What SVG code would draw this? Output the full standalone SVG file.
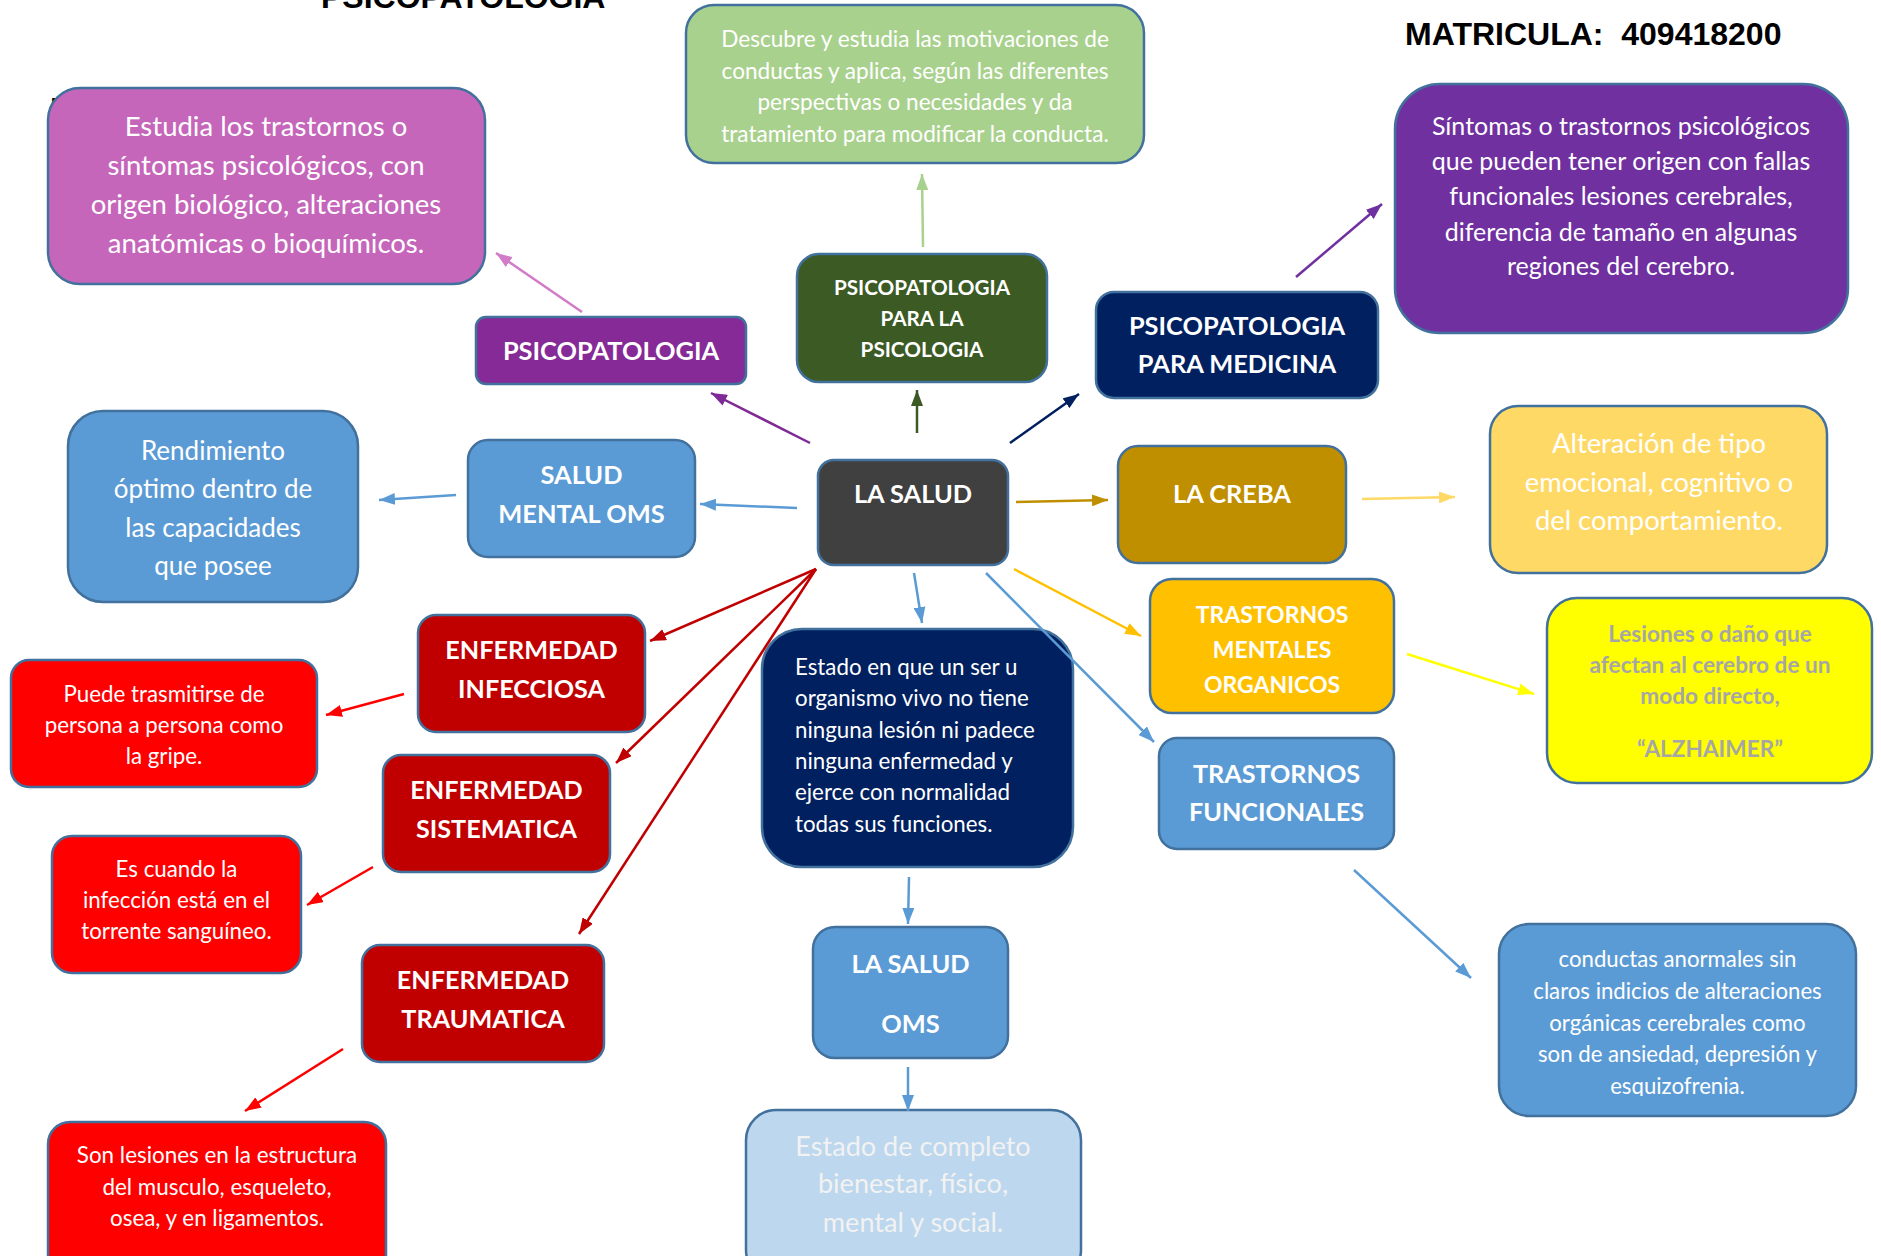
<svg xmlns="http://www.w3.org/2000/svg" width="1881" height="1256" viewBox="0 0 1881 1256">
<style>
.box{stroke:#41719c;stroke-width:2.5}
.t{font-family:Lato,"Open Sans","Liberation Sans",sans-serif;fill:#ffffff;text-anchor:middle}
.b{font-weight:bold}
.h{font-family:"Liberation Sans",Arial,sans-serif;font-weight:bold;fill:#000000}
.c{fill:none;stroke-width:2.5}
</style>
<defs>
<marker id="m-pink" markerUnits="userSpaceOnUse" markerWidth="16" markerHeight="12" refX="16" refY="6" orient="auto"><path d="M0,0 L16,6 L0,12 z" fill="#d27bc9"/></marker>
<marker id="m-purple" markerUnits="userSpaceOnUse" markerWidth="16" markerHeight="12" refX="16" refY="6" orient="auto"><path d="M0,0 L16,6 L0,12 z" fill="#7f2a96"/></marker>
<marker id="m-dgreen" markerUnits="userSpaceOnUse" markerWidth="16" markerHeight="12" refX="16" refY="6" orient="auto"><path d="M0,0 L16,6 L0,12 z" fill="#3b5a24"/></marker>
<marker id="m-lgreen" markerUnits="userSpaceOnUse" markerWidth="16" markerHeight="12" refX="16" refY="6" orient="auto"><path d="M0,0 L16,6 L0,12 z" fill="#a9d18e"/></marker>
<marker id="m-navy" markerUnits="userSpaceOnUse" markerWidth="16" markerHeight="12" refX="16" refY="6" orient="auto"><path d="M0,0 L16,6 L0,12 z" fill="#002060"/></marker>
<marker id="m-violet" markerUnits="userSpaceOnUse" markerWidth="16" markerHeight="12" refX="16" refY="6" orient="auto"><path d="M0,0 L16,6 L0,12 z" fill="#7030a0"/></marker>
<marker id="m-blue" markerUnits="userSpaceOnUse" markerWidth="16" markerHeight="12" refX="16" refY="6" orient="auto"><path d="M0,0 L16,6 L0,12 z" fill="#5b9bd5"/></marker>
<marker id="m-gold" markerUnits="userSpaceOnUse" markerWidth="16" markerHeight="12" refX="16" refY="6" orient="auto"><path d="M0,0 L16,6 L0,12 z" fill="#bf8f00"/></marker>
<marker id="m-lyellow" markerUnits="userSpaceOnUse" markerWidth="16" markerHeight="12" refX="16" refY="6" orient="auto"><path d="M0,0 L16,6 L0,12 z" fill="#ffd966"/></marker>
<marker id="m-orange" markerUnits="userSpaceOnUse" markerWidth="16" markerHeight="12" refX="16" refY="6" orient="auto"><path d="M0,0 L16,6 L0,12 z" fill="#ffc000"/></marker>
<marker id="m-yellow" markerUnits="userSpaceOnUse" markerWidth="16" markerHeight="12" refX="16" refY="6" orient="auto"><path d="M0,0 L16,6 L0,12 z" fill="#ffff00"/></marker>
<marker id="m-dred" markerUnits="userSpaceOnUse" markerWidth="16" markerHeight="12" refX="16" refY="6" orient="auto"><path d="M0,0 L16,6 L0,12 z" fill="#c00000"/></marker>
<marker id="m-red" markerUnits="userSpaceOnUse" markerWidth="16" markerHeight="12" refX="16" refY="6" orient="auto"><path d="M0,0 L16,6 L0,12 z" fill="#ff0000"/></marker>
<clipPath id="clip-conductas"><rect x="1499" y="924" width="357" height="172"/></clipPath>
</defs>
<rect x="0" y="0" width="1881" height="1256" fill="#ffffff"/>

<g id="titles">
<text class="h" x="321" y="8" font-size="32">PSICOPATOLOGIA</text>
<text class="h" x="1405" y="45" font-size="32" xml:space="preserve">MATRICULA:  409418200</text>
<text class="h" x="50" y="120" font-size="32">P</text>
</g>

<g id="n-descubre">
<rect class="box" x="686" y="5" width="458" height="158" rx="28" fill="#a9d18e"/>
<text class="t" font-size="22.6"><tspan x="915" y="47">Descubre y estudia las motivaciones de</tspan><tspan x="915" y="79">conductas y aplica, según las diferentes</tspan><tspan x="915" y="110">perspectivas o necesidades y da</tspan><tspan x="915" y="142">tratamiento para modificar la conducta.</tspan></text>
</g>

<g id="n-psico-psicologia">
<rect class="box" x="797" y="254" width="250" height="128" rx="22" fill="#3b5a24"/>
<text class="t b" font-size="20.7"><tspan x="922" y="295">PSICOPATOLOGIA</tspan><tspan x="922" y="326">PARA LA</tspan><tspan x="922" y="357">PSICOLOGIA</tspan></text>
</g>

<g id="n-psicopatologia">
<rect class="box" x="476" y="317" width="270" height="67" rx="10" fill="#852a97"/>
<text class="t b" font-size="25.4" x="611" y="360">PSICOPATOLOGIA</text>
</g>

<g id="n-estudia">
<rect class="box" x="48" y="88" width="437" height="196" rx="32" fill="#c566bb"/>
<text class="t" font-size="27.5"><tspan x="266" y="136">Estudia los trastornos o</tspan><tspan x="266" y="175">síntomas psicológicos, con</tspan><tspan x="266" y="214">origen biológico, alteraciones</tspan><tspan x="266" y="253">anatómicas o bioquímicos.</tspan></text>
</g>

<g id="n-medicina">
<rect class="box" x="1096" y="292" width="282" height="106" rx="18" fill="#002060"/>
<text class="t b" font-size="25.4"><tspan x="1237" y="335">PSICOPATOLOGIA</tspan><tspan x="1237" y="373">PARA MEDICINA</tspan></text>
</g>

<g id="n-sintomas">
<rect class="box" x="1395" y="84" width="453" height="249" rx="45" fill="#7030a0"/>
<text class="t" font-size="25"><tspan x="1621" y="135">Síntomas o trastornos psicológicos</tspan><tspan x="1621" y="170">que pueden tener origen con fallas</tspan><tspan x="1621" y="205">funcionales lesiones cerebrales,</tspan><tspan x="1621" y="241">diferencia de tamaño en algunas</tspan><tspan x="1621" y="275">regiones del cerebro.</tspan></text>
</g>

<g id="n-la-salud">
<rect class="box" x="818" y="460" width="190" height="105" rx="16" fill="#404040"/>
<text class="t b" font-size="25.4" x="913" y="503">LA SALUD</text>
</g>

<g id="n-creba">
<rect class="box" x="1118" y="446" width="228" height="117" rx="20" fill="#bf8f00"/>
<text class="t b" font-size="25.4" x="1232" y="503">LA CREBA</text>
</g>

<g id="n-tmo">
<rect class="box" x="1150" y="579" width="244" height="134" rx="22" fill="#ffc000"/>
<text class="t b" font-size="23"><tspan x="1272" y="623">TRASTORNOS</tspan><tspan x="1272" y="658">MENTALES</tspan><tspan x="1272" y="693">ORGANICOS</tspan></text>
</g>

<g id="n-tf">
<rect class="box" x="1159" y="738" width="235" height="111" rx="18" fill="#5b9bd5"/>
<text class="t b" font-size="25.2"><tspan x="1276.5" y="783">TRASTORNOS</tspan><tspan x="1276.5" y="821">FUNCIONALES</tspan></text>
</g>

<g id="n-estado">
<rect class="box" x="762" y="629" width="311" height="238" rx="40" fill="#002060"/>
<text class="t" font-size="22.3" style="text-anchor:start"><tspan x="795" y="675">Estado en que un ser u</tspan><tspan x="795" y="706">organismo vivo no tiene</tspan><tspan x="795" y="738">ninguna lesión ni padece</tspan><tspan x="795" y="769">ninguna enfermedad y</tspan><tspan x="795" y="800">ejerce con normalidad</tspan><tspan x="795" y="832">todas sus funciones.</tspan></text>
</g>

<g id="n-salud-oms">
<rect class="box" x="813" y="927" width="195" height="131" rx="22" fill="#5b9bd5"/>
<text class="t b" font-size="25.4"><tspan x="910.5" y="973">LA SALUD</tspan><tspan x="910.5" y="1033">OMS</tspan></text>
</g>

<g id="n-completo">
<rect class="box" x="746" y="1110" width="335" height="170" rx="30" fill="#bdd7ee"/>
<text class="t" font-size="27.1" style="fill:#f2f2f2"><tspan x="913" y="1156">Estado de completo</tspan><tspan x="913" y="1193">bienestar, físico,</tspan><tspan x="913" y="1232">mental y social.</tspan></text>
</g>

<g id="n-salud-mental">
<rect class="box" x="468" y="440" width="227" height="117" rx="20" fill="#5b9bd5"/>
<text class="t b" font-size="25.4"><tspan x="581.5" y="484">SALUD</tspan><tspan x="581.5" y="523">MENTAL OMS</tspan></text>
</g>

<g id="n-rendimiento">
<rect class="box" x="68" y="411" width="290" height="191" rx="35" fill="#5b9bd5"/>
<text class="t" font-size="26"><tspan x="213" y="460">Rendimiento</tspan><tspan x="213" y="498">óptimo dentro de</tspan><tspan x="213" y="537">las capacidades</tspan><tspan x="213" y="575">que posee</tspan></text>
</g>

<g id="n-infecciosa">
<rect class="box" x="418" y="615" width="227" height="117" rx="18" fill="#c00000"/>
<text class="t b" font-size="25.2"><tspan x="531.5" y="659">ENFERMEDAD</tspan><tspan x="531.5" y="698">INFECCIOSA</tspan></text>
</g>

<g id="n-puede">
<rect class="box" x="11" y="660" width="306" height="127" rx="18" fill="#ff0000"/>
<text class="t" font-size="22.3"><tspan x="164" y="702">Puede trasmitirse de</tspan><tspan x="164" y="733">persona a persona como</tspan><tspan x="164" y="764">la gripe.</tspan></text>
</g>

<g id="n-sistematica">
<rect class="box" x="383" y="755" width="227" height="117" rx="18" fill="#c00000"/>
<text class="t b" font-size="25.2"><tspan x="496.5" y="799">ENFERMEDAD</tspan><tspan x="496.5" y="838">SISTEMATICA</tspan></text>
</g>

<g id="n-escuando">
<rect class="box" x="52" y="836" width="249" height="137" rx="20" fill="#ff0000"/>
<text class="t" font-size="22.3"><tspan x="176.5" y="877">Es cuando la</tspan><tspan x="176.5" y="908">infección está en el</tspan><tspan x="176.5" y="939">torrente sanguíneo.</tspan></text>
</g>

<g id="n-traumatica">
<rect class="box" x="362" y="945" width="242" height="117" rx="18" fill="#c00000"/>
<text class="t b" font-size="25.2"><tspan x="483" y="989">ENFERMEDAD</tspan><tspan x="483" y="1028">TRAUMATICA</tspan></text>
</g>

<g id="n-sonlesiones">
<rect class="box" x="48" y="1122" width="338" height="160" rx="22" fill="#ff0000"/>
<text class="t" font-size="22.4"><tspan x="217" y="1163">Son lesiones en la estructura</tspan><tspan x="217" y="1195">del musculo, esqueleto,</tspan><tspan x="217" y="1226">osea, y en ligamentos.</tspan></text>
</g>

<g id="n-alteracion">
<rect class="box" x="1490" y="406" width="337" height="167" rx="28" fill="#ffd966"/>
<text class="t" font-size="27.3"><tspan x="1659" y="453">Alteración de tipo</tspan><tspan x="1659" y="492">emocional, cognitivo o</tspan><tspan x="1659" y="530">del comportamiento.</tspan></text>
</g>

<g id="n-lesiones">
<rect class="box" x="1547" y="598" width="325" height="185" rx="30" fill="#ffff00"/>
<text class="t b" font-size="22.6" style="fill:#a6a6a6"><tspan x="1710" y="642">Lesiones o daño que</tspan><tspan x="1710" y="673">afectan al cerebro de un</tspan><tspan x="1710" y="704">modo directo,</tspan><tspan x="1710" y="757">“ALZHAIMER”</tspan></text>
</g>

<g id="n-conductas">
<rect class="box" x="1499" y="924" width="357" height="192" rx="30" fill="#5b9bd5"/>
<text class="t" font-size="22.2" clip-path="url(#clip-conductas)"><tspan x="1677.5" y="967">conductas anormales sin</tspan><tspan x="1677.5" y="999">claros indicios de alteraciones</tspan><tspan x="1677.5" y="1031">orgánicas cerebrales como</tspan><tspan x="1677.5" y="1062">son de ansiedad, depresión y</tspan><tspan x="1677.5" y="1094">esquizofrenia.</tspan></text>
</g>

<g id="connectors">
<line class="c" x1="582" y1="312" x2="496" y2="253" stroke="#d27bc9" marker-end="url(#m-pink)"/>
<line class="c" x1="810" y1="443" x2="711" y2="393" stroke="#7f2a96" marker-end="url(#m-purple)"/>
<line class="c" x1="917" y1="433" x2="917" y2="390" stroke="#3b5a24" marker-end="url(#m-dgreen)"/>
<line class="c" x1="923" y1="247" x2="922" y2="174" stroke="#a9d18e" marker-end="url(#m-lgreen)"/>
<line class="c" x1="1010" y1="443" x2="1079" y2="394" stroke="#002060" marker-end="url(#m-navy)"/>
<line class="c" x1="1296" y1="277" x2="1382" y2="204" stroke="#7030a0" marker-end="url(#m-violet)"/>
<line class="c" x1="797" y1="508" x2="700" y2="504" stroke="#5b9bd5" marker-end="url(#m-blue)"/>
<line class="c" x1="456" y1="495" x2="379" y2="500" stroke="#5b9bd5" marker-end="url(#m-blue)"/>
<line class="c" x1="1016" y1="502" x2="1108" y2="500" stroke="#bf8f00" marker-end="url(#m-gold)"/>
<line class="c" x1="1362" y1="499" x2="1455" y2="497" stroke="#ffd966" marker-end="url(#m-lyellow)"/>
<line class="c" x1="1014" y1="569" x2="1141" y2="636" stroke="#ffc000" marker-end="url(#m-orange)"/>
<line class="c" x1="1407" y1="654" x2="1534" y2="694" stroke="#ffff00" marker-end="url(#m-yellow)"/>
<line class="c" x1="986" y1="573" x2="1154" y2="742" stroke="#5b9bd5" marker-end="url(#m-blue)"/>
<line class="c" x1="914" y1="573" x2="922" y2="623" stroke="#5b9bd5" marker-end="url(#m-blue)"/>
<line class="c" x1="909" y1="877" x2="908" y2="924" stroke="#5b9bd5" marker-end="url(#m-blue)"/>
<line class="c" x1="908" y1="1067" x2="908" y2="1111" stroke="#5b9bd5" marker-end="url(#m-blue)"/>
<line class="c" x1="1354" y1="870" x2="1471" y2="978" stroke="#5b9bd5" marker-end="url(#m-blue)"/>
<line class="c" x1="816" y1="569" x2="650" y2="641" stroke="#c00000" marker-end="url(#m-dred)"/>
<line class="c" x1="816" y1="569" x2="616" y2="763" stroke="#c00000" marker-end="url(#m-dred)"/>
<line class="c" x1="816" y1="569" x2="579" y2="934" stroke="#c00000" marker-end="url(#m-dred)"/>
<line class="c" x1="404" y1="694" x2="326" y2="715" stroke="#ff0000" marker-end="url(#m-red)"/>
<line class="c" x1="373" y1="867" x2="307" y2="905" stroke="#ff0000" marker-end="url(#m-red)"/>
<line class="c" x1="343" y1="1049" x2="245" y2="1111" stroke="#ff0000" marker-end="url(#m-red)"/>
</g>
</svg>
